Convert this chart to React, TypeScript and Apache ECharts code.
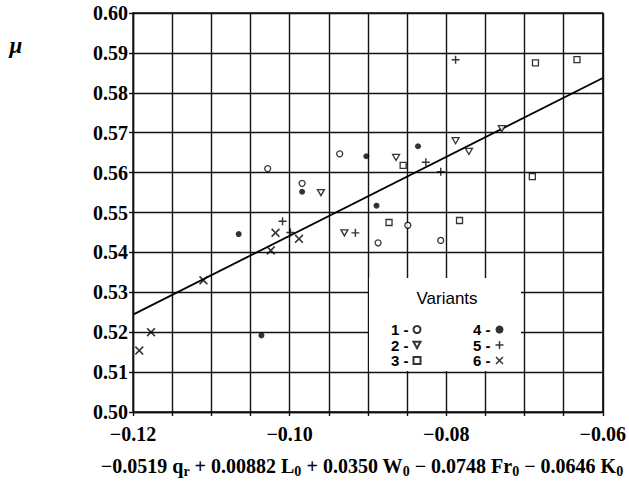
import React, { useEffect, useRef } from "react";
import * as echarts from "echarts";

// ---- data ----
const xTicks = [-0.12, -0.1, -0.08, -0.06];
const yTicks = [0.5, 0.51, 0.52, 0.53, 0.54, 0.55, 0.56, 0.57, 0.58, 0.59, 0.6];

const v1X = [-0.1028, -0.0984, -0.0936, -0.0849, -0.0887, -0.0807];
const v1Y = [0.561, 0.5573, 0.5647, 0.5468, 0.5424, 0.543];
const v2X = [-0.096, -0.093, -0.0864, -0.0788, -0.0771, -0.0729];
const v2Y = [0.555, 0.5449, 0.5638, 0.568, 0.5653, 0.571];
const v3X = [-0.0855, -0.0873, -0.0783, -0.069, -0.0686, -0.0633];
const v3Y = [0.5618, 0.5475, 0.548, 0.559, 0.5875, 0.5883];
const v4X = [-0.1065, -0.1036, -0.0984, -0.0902, -0.0889, -0.0836];
const v4Y = [0.5446, 0.5192, 0.5552, 0.5641, 0.5517, 0.5666];
const v5X = [-0.1009, -0.0999, -0.0916, -0.0826, -0.0807, -0.0788];
const v5Y = [0.5478, 0.545, 0.5449, 0.5626, 0.5602, 0.5883];
const v6X = [-0.1192, -0.1177, -0.111, -0.1024, -0.1018, -0.0988];
const v6Y = [0.5154, 0.52, 0.533, 0.5405, 0.5449, 0.5434];

const fitX = [-0.12, -0.06];
const fitY = [0.5244, 0.5837];

const variantNames = ["1", "2", "3", "4", "5", "6"];

const TRI_DOWN = "path://M0,0L10,0L5,9Z";
const PLUS = "path://M4.1,0H5.9V4.1H10V5.9H5.9V10H4.1V5.9H0V4.1H4.1Z";
const CROSS =
  "path://M0,1.3L1.3,0L5,3.7L8.7,0L10,1.3L6.3,5L10,8.7L8.7,10L5,6.3L1.3,10L0,8.7L3.7,5Z";

const zip = (xs: number[], ys: number[]) => xs.map((x, i) => [x, ys[i]]);

const SERIF = "'Liberation Serif', 'Times New Roman', serif";
const SANS = "'Liberation Sans', Arial, sans-serif";

const fmtMinus = (v: number, d: number) =>
  (v < 0 ? "\u2212" : "") + Math.abs(v).toFixed(d);

export default function App() {
  const ref = useRef<HTMLDivElement>(null);

  useEffect(() => {
    if (!ref.current) return;
    const chart = echarts.init(ref.current, undefined, { renderer: "svg" });

    const openStyle = { color: "#fff", borderColor: "#000", borderWidth: 1.3 };
    const fillStyle = { color: "#000", borderColor: "#000", borderWidth: 0 };

    const legendText = {
      fontFamily: SANS,
      fontWeight: "bold" as const,
      fontSize: 15,
      color: "#000",
      lineHeight: 15,
    };

    const option: any = {
      animation: false,
      backgroundColor: "#fff",
      grid: {
        left: 133,
        right: 21,
        top: 13,
        bottom: 75,
        show: true,
        borderColor: "#111",
        borderWidth: 1.3,
        backgroundColor: "transparent",
      },
      xAxis: {
        type: "value",
        min: xTicks[0],
        max: xTicks[xTicks.length - 1],
        interval: 0.02,
        axisLine: { show: true, onZero: false, lineStyle: { color: "#111", width: 1.4 } },
        axisTick: { show: true, length: 4, lineStyle: { color: "#111", width: 1.4 } },
        minorTick: { show: true, splitNumber: 4, length: 4, lineStyle: { color: "#111", width: 1.4 } },
        splitLine: { show: true, lineStyle: { color: "#111", width: 1.4 } },
        minorSplitLine: { show: true, lineStyle: { color: "#111", width: 1.4 } },
        axisLabel: {
          margin: 12,
          fontFamily: SERIF,
          fontWeight: "bold",
          fontSize: 20,
          color: "#000",
          formatter: (v: number) => fmtMinus(v, 2),
        },
      },
      yAxis: {
        type: "value",
        min: yTicks[0],
        max: yTicks[yTicks.length - 1],
        interval: 0.01,
        axisLine: { show: true, onZero: false, lineStyle: { color: "#111", width: 1.4 } },
        axisTick: { show: true, length: 4, lineStyle: { color: "#111", width: 1.4 } },
        splitLine: { show: true, lineStyle: { color: "#111", width: 1.4 } },
        axisLabel: {
          margin: 5,
          fontFamily: SERIF,
          fontWeight: "bold",
          fontSize: 20,
          color: "#000",
          formatter: (v: number) => v.toFixed(2),
        },
      },
      legend: [
        {
          data: [
            { name: variantNames[0], icon: "circle" },
            { name: variantNames[1], icon: TRI_DOWN },
            { name: variantNames[2], icon: "rect" },
          ],
          orient: "vertical",
          left: 386,
          top: 317,
          align: "right",
          itemWidth: 7,
          itemHeight: 7,
          itemGap: 0.5,
          selectedMode: false,
          formatter: (n: string) => n + " -",
          textStyle: legendText,
        },
        {
          data: [
            { name: variantNames[3], icon: "circle" },
            { name: variantNames[4], icon: PLUS },
            { name: variantNames[5], icon: CROSS },
          ],
          orient: "vertical",
          left: 468,
          top: 317,
          align: "right",
          itemWidth: 8,
          itemHeight: 8,
          itemGap: 0.5,
          selectedMode: false,
          formatter: (n: string) => n + " -",
          textStyle: legendText,
        },
      ],
      graphic: [
        {
          type: "rect",
          z: 3,
          shape: { x: 369, y: 278, width: 152, height: 93 },
          style: { fill: "#fff" },
          silent: true,
        },
        {
          type: "text",
          z: 5,
          x: 447,
          y: 298,
          style: {
            text: "Variants",
            fontFamily: SANS,
            fontSize: 17,
            fill: "#000",
            align: "center",
            verticalAlign: "middle",
          },
        },
        {
          type: "text",
          x: 16,
          y: 45,
          style: {
            text: "\u03bc",
            fontFamily: SERIF,
            fontWeight: "bold",
            fontStyle: "italic",
            fontSize: 23,
            fill: "#000",
            align: "center",
            verticalAlign: "middle",
          },
        },
        {
          type: "text",
          x: 362,
          y: 466,
          style: {
            text:
              "{m|\u22120.0519 q}{s|r}{m| + 0.00882 L}{s|0}{m| + 0.0350 W}{s|0}{m| \u2212 0.0748 Fr}{s|0}{m| \u2212 0.0646 K}{s|0}",
            align: "center",
            verticalAlign: "middle",
            fill: "#000",
            rich: {
              m: { fontFamily: SERIF, fontWeight: "bold", fontSize: 20, fill: "#000", lineHeight: 24 },
              s: {
                fontFamily: SERIF,
                fontWeight: "bold",
                fontSize: 14,
                fill: "#000",
                lineHeight: 24,
                padding: [10, 0, 0, 0],
              },
            },
          },
        },
      ],
      series: [
        {
          name: variantNames[0],
          type: "scatter",
          data: zip(v1X, v1Y),
          symbol: "circle",
          symbolSize: 6,
          itemStyle: openStyle,
        },
        {
          name: variantNames[1],
          type: "scatter",
          data: zip(v2X, v2Y),
          symbol: TRI_DOWN,
          symbolSize: [7, 6],
          itemStyle: openStyle,
        },
        {
          name: variantNames[2],
          type: "scatter",
          data: zip(v3X, v3Y),
          symbol: "rect",
          symbolSize: 6,
          itemStyle: openStyle,
        },
        {
          name: variantNames[3],
          type: "scatter",
          data: zip(v4X, v4Y),
          symbol: "circle",
          symbolSize: 6,
          itemStyle: fillStyle,
        },
        {
          name: variantNames[4],
          type: "scatter",
          data: zip(v5X, v5Y),
          symbol: PLUS,
          symbolSize: 8,
          itemStyle: fillStyle,
        },
        {
          name: variantNames[5],
          type: "scatter",
          data: zip(v6X, v6Y),
          symbol: CROSS,
          symbolSize: 9,
          itemStyle: fillStyle,
        },
        {
          name: "fit",
          type: "line",
          data: zip(fitX, fitY),
          showSymbol: false,
          symbol: "none",
          lineStyle: { color: "#000", width: 1.8 },
          z: 1,
          silent: true,
        },
      ],
    };

    chart.setOption(option);
    return () => chart.dispose();
  }, []);

  return (
    <div
      ref={ref}
      style={{ position: "fixed", left: 0, top: 0, width: 629, height: 487 }}
    />
  );
}
